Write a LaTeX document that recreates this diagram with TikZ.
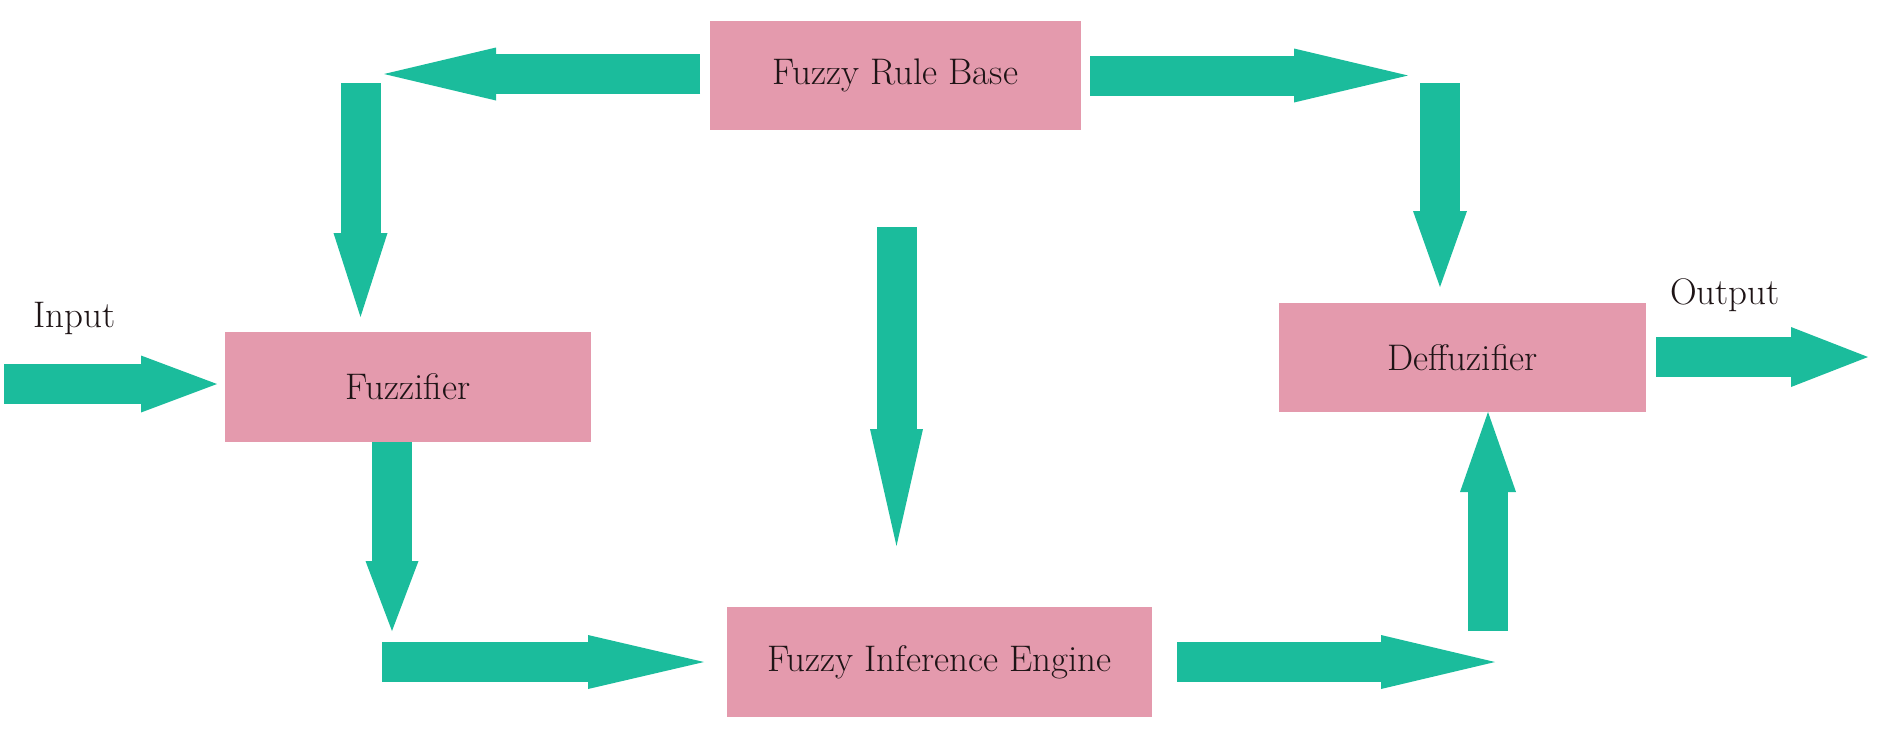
\documentclass[tikz,border=0pt]{standalone}
\usetikzlibrary{arrows.meta}
\definecolor{arrowc}{RGB}{27,188,156}
\definecolor{boxc}{RGB}{228,154,173}
\definecolor{txtc}{RGB}{30,20,22}
\tikzset{
  blk/.style={fill=boxc, draw=none, inner sep=0pt, anchor=center, text=txtc,
    font=\fontsize{37}{44}\selectfont},
  lbl/.style={inner sep=0pt, anchor=base west, text=txtc, font=\fontsize{37}{44}\selectfont},
  flow/.style 2 args={line width=40pt, draw=arrowc,
    -{Triangle[length=#1pt, width=#2pt, line width=0pt]}}
}
\begin{document}
\begin{tikzpicture}[x=1pt, y=-1pt]
\useasboundingbox (0,0) rectangle (1880,748);
% boxes
\node[blk, minimum width=371pt, minimum height=109pt] (frb) at (895.5,75.5) {Fuzzy Rule Base};
\node[blk, minimum width=366pt, minimum height=110pt] (fuz) at (408,387) {Fuzzifier};
\node[blk, minimum width=425pt, minimum height=110pt] (fie) at (939.5,662) {Fuzzy Inference Engine};
\node[blk, minimum width=367pt, minimum height=109pt] (def) at (1462.5,357.5) {Deffuzifier};
% labels
\node[lbl] (inp) at (33,327) {Input};
\node[lbl] (out) at (1670,304) {Output};
% arrow end points
\coordinate (a1s) at (700,74);   \coordinate (a1e) at (384,74);
\coordinate (a2s) at (360.5,83); \coordinate (a2e) at (360.5,317);
\coordinate (a3s) at (1090,75.5);\coordinate (a3e) at (1408,75.5);
\coordinate (a4s) at (1440,83);  \coordinate (a4e) at (1440,287);
\coordinate (a5s) at (4,384);    \coordinate (a5e) at (217,384);
\coordinate (a6s) at (392,442);  \coordinate (a6e) at (392,631);
\coordinate (a7s) at (382,662);  \coordinate (a7e) at (704,662);
\coordinate (a8s) at (896.5,227);\coordinate (a8e) at (896.5,546);
\coordinate (a9s) at (1177,662); \coordinate (a9e) at (1495,662);
\coordinate (a10s) at (1488,631);\coordinate (a10e) at (1488,412);
\coordinate (a11s) at (1656,357);\coordinate (a11e) at (1868,357);
% arrows
\draw[flow={112}{53}] (a1s) -- (a1e);
\draw[flow={84}{54}] (a2s) -- (a2e);
\draw[flow={114}{54}] (a3s) -- (a3e);
\draw[flow={76}{54}] (a4s) -- (a4e);
\draw[flow={76}{57}] (a5s) -- (a5e);
\draw[flow={70}{53}] (a6s) -- (a6e);
\draw[flow={116}{54}] (a7s) -- (a7e);
\draw[flow={117}{53}] (a8s) -- (a8e);
\draw[flow={114}{54}] (a9s) -- (a9e);
\draw[flow={80}{56}] (a10s) -- (a10e);
\draw[flow={77}{60}] (a11s) -- (a11e);
\end{tikzpicture}
\end{document}
